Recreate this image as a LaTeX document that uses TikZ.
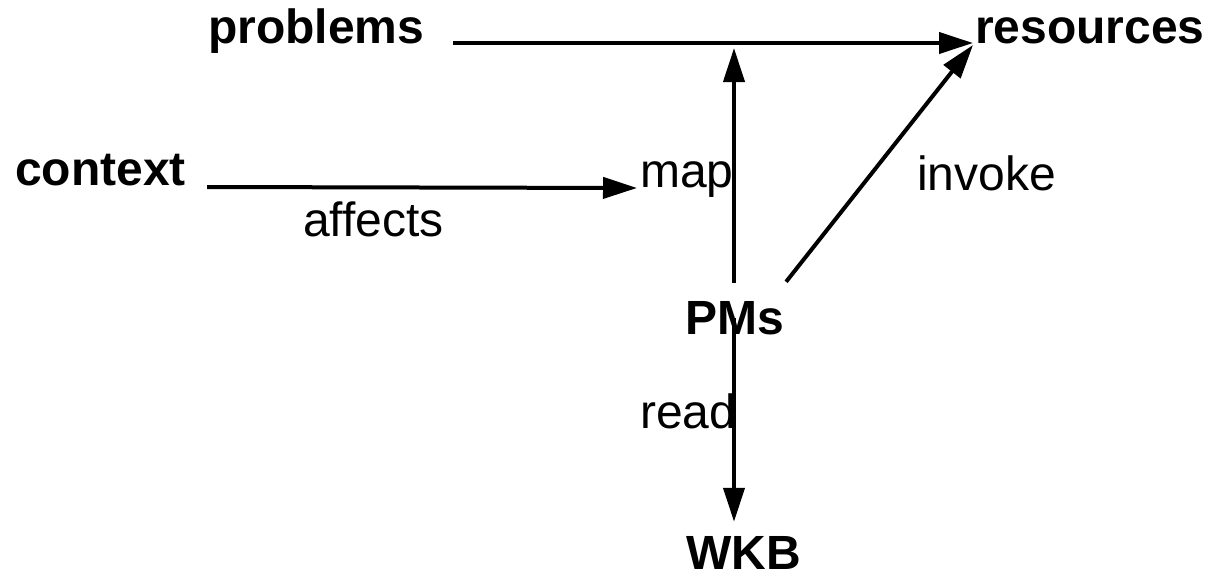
\documentclass[tikz,border=0pt]{standalone}
\usepackage{fontspec}
\setmainfont{Liberation Sans}
\usetikzlibrary{arrows.meta}
\begin{document}
\begin{tikzpicture}[x=1pt,y=-1pt,
  lbl/.style={inner sep=0pt,anchor=base west,font=\fontsize{48}{56}\selectfont},
  key/.style={lbl,font=\fontsize{48}{56}\selectfont\bfseries},
  conn/.style={line width=4pt,-{Triangle[length=34pt,width=21pt]}}]
\useasboundingbox (0,0) rectangle (1209,579);

% concepts
\node[key] (problems)  at (208,43)  {problems};
\node[key] (resources) at (975,43)  {resources};
\node[key] (context)   at (15,185)  {context};
\node[key] (pms)       at (685,334) {PMs};
\node[key] (wkb)       at (686,569) {WKB};

% relation labels
\node[lbl] (map)     at (640,187) {map};
\node[lbl] (affects) at (303,236) {affects};
\node[lbl] (invoke)  at (917,190) {invoke};
\node[lbl] (read)    at (640,428) {read};

% point where the map arrow meets the problems line
\coordinate (tee) at (734,48);

% connectors
\draw[conn] ([xshift=29pt]problems.base east) -- ([xshift=-2pt]resources.base west);
\draw[conn] ([xshift=21pt,yshift=-2pt]context.base east) -- ([xshift=-3pt,yshift=-1pt]map.base west);
\draw[conn] ([yshift=18pt]tee |- pms.north) -- (tee);
\draw[conn] ([xshift=2pt,yshift=19pt]pms.north east) -- ([xshift=-2pt,yshift=-2pt]resources.base west);
\draw[conn] (tee |- pms.center) -- ([yshift=14pt]tee |- wkb.north);
\end{tikzpicture}
\end{document}
